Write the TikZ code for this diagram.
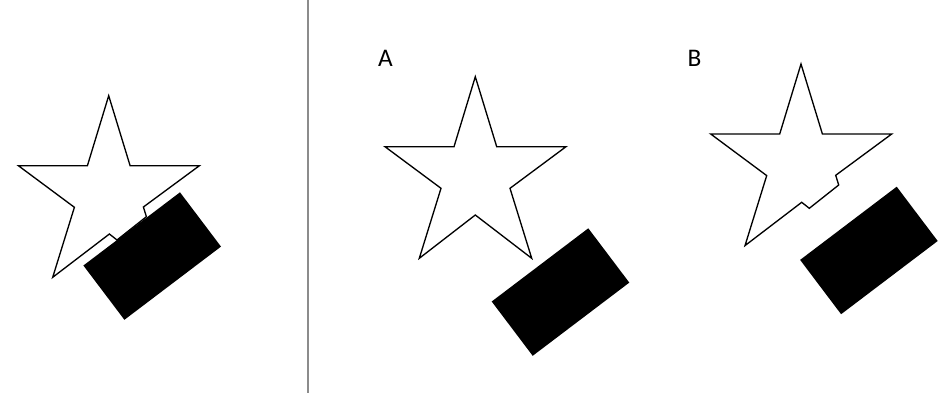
\documentclass[tikz,border=0pt]{standalone}
\usepackage{fontspec}
\setmainfont{Carlito}
\definecolor{divider}{RGB}{140,140,140}
\tikzset{
  starline/.style={draw=black, line width=1pt, line join=miter, fill=white},
  block/.style={fill=black, draw=none},
  divline/.style={draw=divider, line width=1.4pt},
  panellabel/.style={font=\fontsize{19}{21}\selectfont, inner sep=0pt, anchor=base}
}
\begin{document}
\begin{tikzpicture}[x=0.75pt, y=-0.75pt]
\useasboundingbox (0,0) rectangle (952,400);
% divider
\coordinate (dtop) at (308.3,0);
\coordinate (dbot) at (308.3,393);
\draw[divline] (dtop) -- (dbot);

% ---------- left: notched star with overlapping block ----------
\begin{scope}[shift={(108.7,95.7)}]
  \draw[starline] (0,0) -- (21.4,70) -- (90.7,70) -- (34.7,111.3) -- (37.7,121)
    -- (8.3,144.3) -- (0.7,138.3) -- (-56,181.6) -- (-34.3,111.6)
    -- (-90.3,70) -- (-21.3,70) -- cycle;
\end{scope}
\fill[block] (180,192.3) -- ++(41,54.3) -- ++(-96.6,73.2) -- ++(-41,-54.3) -- cycle;

% ---------- A: full star, block apart ----------
\node[panellabel] (labA) at (385.5,66) {A};
\begin{scope}[shift={(475.3,76.7)}]
  \draw[starline] (0,0) -- (21.4,70) -- (90.7,70) -- (34.7,111.6) -- (56.4,181.6)
    -- (0,138.3) -- (-56,181.6) -- (-34.3,111.6)
    -- (-90.3,70) -- (-21.3,70) -- cycle;
\end{scope}
\fill[block] (588.3,228.3) -- ++(41,54.3) -- ++(-96.6,73.2) -- ++(-41,-54.3) -- cycle;

% ---------- B: notched star, block apart ----------
\node[panellabel] (labB) at (694.5,66) {B};
\begin{scope}[shift={(801,64)}]
  \draw[starline] (0,0) -- (21.4,70) -- (90.7,70) -- (34.7,111.3) -- (37.7,121)
    -- (8.3,144.3) -- (0.7,138.3) -- (-56,181.6) -- (-34.3,111.6)
    -- (-90.3,70) -- (-21.3,70) -- cycle;
\end{scope}
\fill[block] (896.7,186.7) -- ++(41,54.3) -- ++(-96.6,73.2) -- ++(-41,-54.3) -- cycle;
\end{tikzpicture}
\end{document}
